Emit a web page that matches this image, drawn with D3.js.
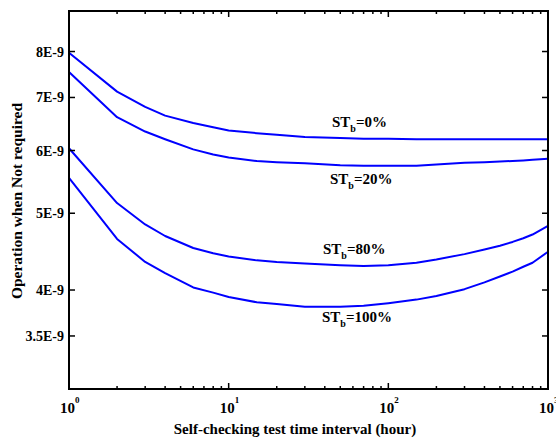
<!DOCTYPE html>
<html><head><meta charset="utf-8">
<script src="https://cdn.jsdelivr.net/npm/d3@7"></script>
<style>body{margin:0;background:#fff}svg{display:block}text{font-family:"Liberation Serif","Times New Roman",serif;font-weight:bold}</style>
</head><body>
<svg id="c" width="556" height="439"></svg>
<script>
const xValues = [1,2,3,4,6,8,10,15,20,30,50,70,100,150,200,300,400,500,600,700,800,1000];
const st0   = [7.97,7.12,6.81,6.64,6.50,6.42,6.36,6.31,6.28,6.24,6.22,6.21,6.21,6.20,6.20,6.20,6.20,6.20,6.20,6.20,6.20,6.20];
const st20  = [7.54,6.61,6.34,6.20,6.02,5.93,5.88,5.82,5.80,5.78,5.75,5.74,5.74,5.74,5.76,5.79,5.80,5.81,5.82,5.83,5.84,5.86];
const st80  = [6.04,5.15,4.84,4.68,4.52,4.45,4.41,4.36,4.34,4.32,4.30,4.29,4.30,4.33,4.37,4.44,4.50,4.55,4.60,4.65,4.70,4.82];
const st100 = [5.54,4.64,4.34,4.20,4.03,3.97,3.92,3.86,3.84,3.81,3.81,3.82,3.85,3.89,3.93,4.01,4.09,4.16,4.22,4.28,4.33,4.47];
const seriesNames = ["0%","20%","80%","100%"];
const yTicks = [3.5e-9,4e-9,5e-9,6e-9,7e-9,8e-9];
const yTickLabels = ["3.5E-9","4E-9","5E-9","6E-9","7E-9","8E-9"];
const xTicks = [1,10,100,1000];
const xTickExp = ["0","1","2","3"];

const svg = d3.select("#c");
const L=69, R=548, T=11, B=389;
const x = d3.scaleLog().domain([1,1000]).range([L,R]);
const y = d3.scaleLog().domain([3e-9,9e-9]).range([B,T]);

const series = [st0,st20,st80,st100];
const line = d3.line().x(d=>x(d[0])).y(d=>y(d[1]*1e-9));
series.forEach(s=>{
  svg.append("path").datum(xValues.map((v,i)=>[v,s[i]]))
    .attr("d",line).attr("fill","none").attr("stroke","#0000ff").attr("stroke-width",2)
    .attr("stroke-linejoin","round");
});

svg.append("rect").attr("x",L).attr("y",T).attr("width",R-L).attr("height",B-T)
  .attr("fill","none").attr("stroke","#000").attr("stroke-width",2);

const minor = [];
for (let d=1; d<1000; d*=10) for (let k=2;k<=9;k++) minor.push(d*k);
const g = svg.append("g").attr("stroke","#000").attr("stroke-width",1.5);
xTicks.forEach(v=>{
  g.append("line").attr("x1",x(v)).attr("x2",x(v)).attr("y1",B).attr("y2",B-6);
  g.append("line").attr("x1",x(v)).attr("x2",x(v)).attr("y1",T).attr("y2",T+6);
});
minor.forEach(v=>{
  g.append("line").attr("x1",x(v)).attr("x2",x(v)).attr("y1",B).attr("y2",B-3);
  g.append("line").attr("x1",x(v)).attr("x2",x(v)).attr("y1",T).attr("y2",T+3);
});
yTicks.forEach(v=>{
  g.append("line").attr("x1",L).attr("x2",L+6).attr("y1",y(v)).attr("y2",y(v));
  g.append("line").attr("x1",R).attr("x2",R-6).attr("y1",y(v)).attr("y2",y(v));
});

yTicks.forEach((v,i)=>{
  svg.append("text").attr("x",L-5).attr("y",y(v)+5).attr("text-anchor","end")
    .attr("font-size",14).text(yTickLabels[i]);
});
xTicks.forEach((v,i)=>{
  const t = svg.append("text").attr("x",x(v)-9).attr("y",413).attr("font-size",15);
  t.append("tspan").text("10");
  t.append("tspan").attr("dy",-10).attr("font-size",9).text(xTickExp[i]);
});

svg.append("text").attr("x",295).attr("y",434).attr("text-anchor","middle")
  .attr("font-size",15).text("Self-checking test time interval (hour)");
svg.append("text").attr("transform","translate(22,201) rotate(-90)").attr("text-anchor","middle")
  .attr("font-size",15.5).text("Operation when Not required");

const labelPos = [[332,127],[330,184],[323,254],[322,322]];
seriesNames.forEach((n,i)=>{
  const t = svg.append("text").attr("x",labelPos[i][0]).attr("y",labelPos[i][1]).attr("font-size",15);
  t.append("tspan").text("ST");
  t.append("tspan").attr("dy",5).attr("font-size",10).text("b");
  t.append("tspan").attr("dy",-5).text("=" + n);
});
</script>
</body></html>
